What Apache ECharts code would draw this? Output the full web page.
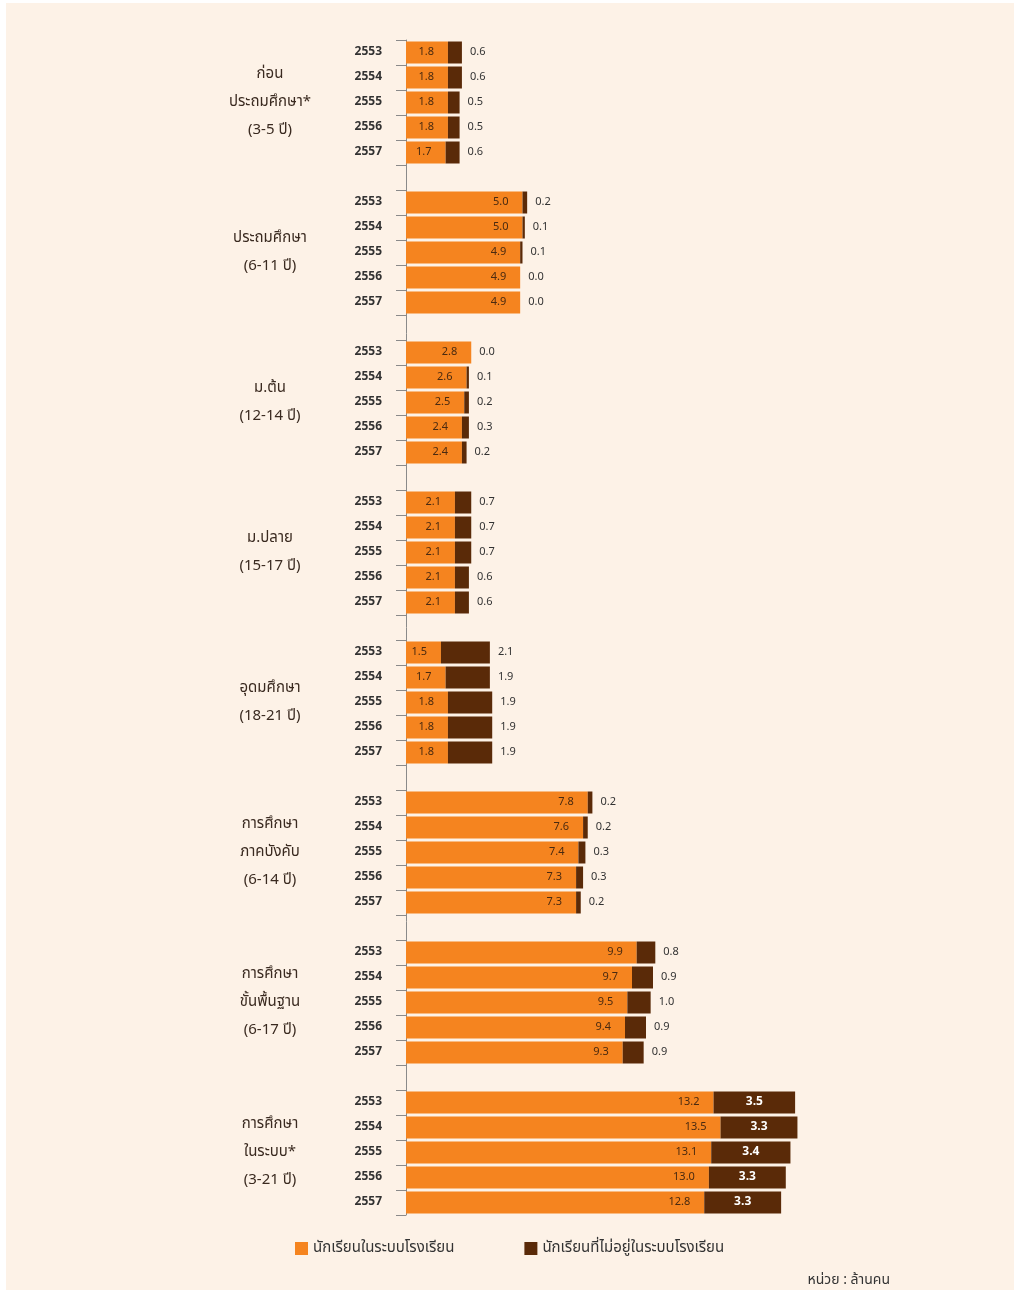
<!DOCTYPE html>
<html>
<head>
<meta charset="utf-8">
<script src="https://cdn.jsdelivr.net/npm/echarts@6/dist/echarts.min.js"></script>
<style>
html,body{margin:0;padding:0;background:#fff;}
#wrap{position:absolute;left:6px;top:3px;width:1008px;height:1287px;background:#fdf2e7;}
#c{position:absolute;left:0;top:0;width:1019px;height:1292px;}
</style>
</head>
<body>
<div id="wrap"></div>
<div id="c"></div>
<script>
const years = ['2553','2554','2555','2556','2557'];
const groups = [
  'ก่อน\nประถมศึกษา*\n(3-5 ปี)',
  'ประถมศึกษา\n(6-11 ปี)',
  'ม.ต้น\n(12-14 ปี)',
  'ม.ปลาย\n(15-17 ปี)',
  'อุดมศึกษา\n(18-21 ปี)',
  'การศึกษา\nภาคบังคับ\n(6-14 ปี)',
  'การศึกษา\nขั้นพื้นฐาน\n(6-17 ปี)',
  'การศึกษา\nในระบบ*\n(3-21 ปี)'
];
const inSchool = [
  [1.8,1.8,1.8,1.8,1.7],
  [5.0,5.0,4.9,4.9,4.9],
  [2.8,2.6,2.5,2.4,2.4],
  [2.1,2.1,2.1,2.1,2.1],
  [1.5,1.7,1.8,1.8,1.8],
  [7.8,7.6,7.4,7.3,7.3],
  [9.9,9.7,9.5,9.4,9.3],
  [13.2,13.5,13.1,13.0,12.8]
];
const outSchool = [
  [0.6,0.6,0.5,0.5,0.6],
  [0.2,0.1,0.1,0.0,0.0],
  [0.0,0.1,0.2,0.3,0.2],
  [0.7,0.7,0.7,0.6,0.6],
  [2.1,1.9,1.9,1.9,1.9],
  [0.2,0.2,0.3,0.3,0.2],
  [0.8,0.9,1.0,0.9,0.9],
  [3.5,3.3,3.4,3.3,3.3]
];
const seriesNames = ['นักเรียนในระบบโรงเรียน','นักเรียนที่ไม่อยู่ในระบบโรงเรียน'];
const unitText = 'หน่วย : ล้านคน';

const FONT = 'Tahoma, "Noto Sans Thai", "Noto Sans", "DejaVu Sans", sans-serif';
const ORANGE = '#f5841f';
const BROWN = '#5a2a08';

const cats = [], groupLabelCats = [], inData = [], outData = [];
groups.forEach((g, gi) => {
  years.forEach((y, yi) => {
    cats.push(y);
    groupLabelCats.push(yi === 2 ? g : '');
    inData.push(inSchool[gi][yi]);
    const last = gi === groups.length - 1;
    outData.push({
      value: outSchool[gi][yi],
      label: last
        ? {position: 'inside', color: '#fff', fontWeight: 'bold', fontSize: 12}
        : {position: 'right', distance: 8, color: '#333'}
    });
  });
  if (gi < groups.length - 1) {
    cats.push('');
    groupLabelCats.push('');
    inData.push('-');
    outData.push('-');
  }
});

const chart = echarts.init(document.getElementById('c'), null, {renderer: 'canvas'});
chart.setOption({
  backgroundColor: 'transparent',
  animation: false,
  textStyle: {fontFamily: FONT},
  grid: {left: 406, top: 40, width: 466, height: 1175, containLabel: false},
  xAxis: {type: 'value', min: 0, max: 20, show: false},
  yAxis: [
    {
      type: 'category', data: cats, inverse: true,
      axisLine: {show: true, lineStyle: {color: '#8a8a8a', width: 1}},
      axisTick: {show: true, length: 10, lineStyle: {color: '#8a8a8a'}},
      axisLabel: {margin: 24, color: '#333', fontSize: 12, fontWeight: 'bold', fontFamily: FONT}
    },
    {
      type: 'category', data: groupLabelCats, inverse: true, position: 'left',
      axisLine: {show: false}, axisTick: {show: false},
      axisLabel: {margin: 136, align: 'center', interval: 0, color: '#3a2a20',
        fontSize: 15, lineHeight: 28, fontFamily: FONT}
    }
  ],
  legend: {
    left: 290, top: 1236, itemWidth: 13, itemHeight: 13, itemGap: 70,
    icon: 'rect',
    textStyle: {fontSize: 15, color: '#333', fontFamily: FONT},
    data: seriesNames
  },
  title: {
    text: unitText, right: 124, top: 1269,
    textStyle: {fontSize: 14, fontWeight: 'normal', color: '#333', fontFamily: FONT}
  },
  series: [
    {
      name: seriesNames[0], type: 'bar', stack: 's', yAxisIndex: 0,
      data: inData, barWidth: 22,
      itemStyle: {color: ORANGE},
      label: {show: true, position: 'insideRight', distance: 14, color: '#4a2a10', fontSize: 11,
        formatter: p => Number(p.value).toFixed(1)}
    },
    {
      name: seriesNames[1], type: 'bar', stack: 's', yAxisIndex: 0,
      data: outData, barWidth: 22,
      itemStyle: {color: BROWN},
      label: {show: true, fontSize: 11, formatter: p => Number(p.value).toFixed(1)}
    }
  ]
});
</script>
</body>
</html>
